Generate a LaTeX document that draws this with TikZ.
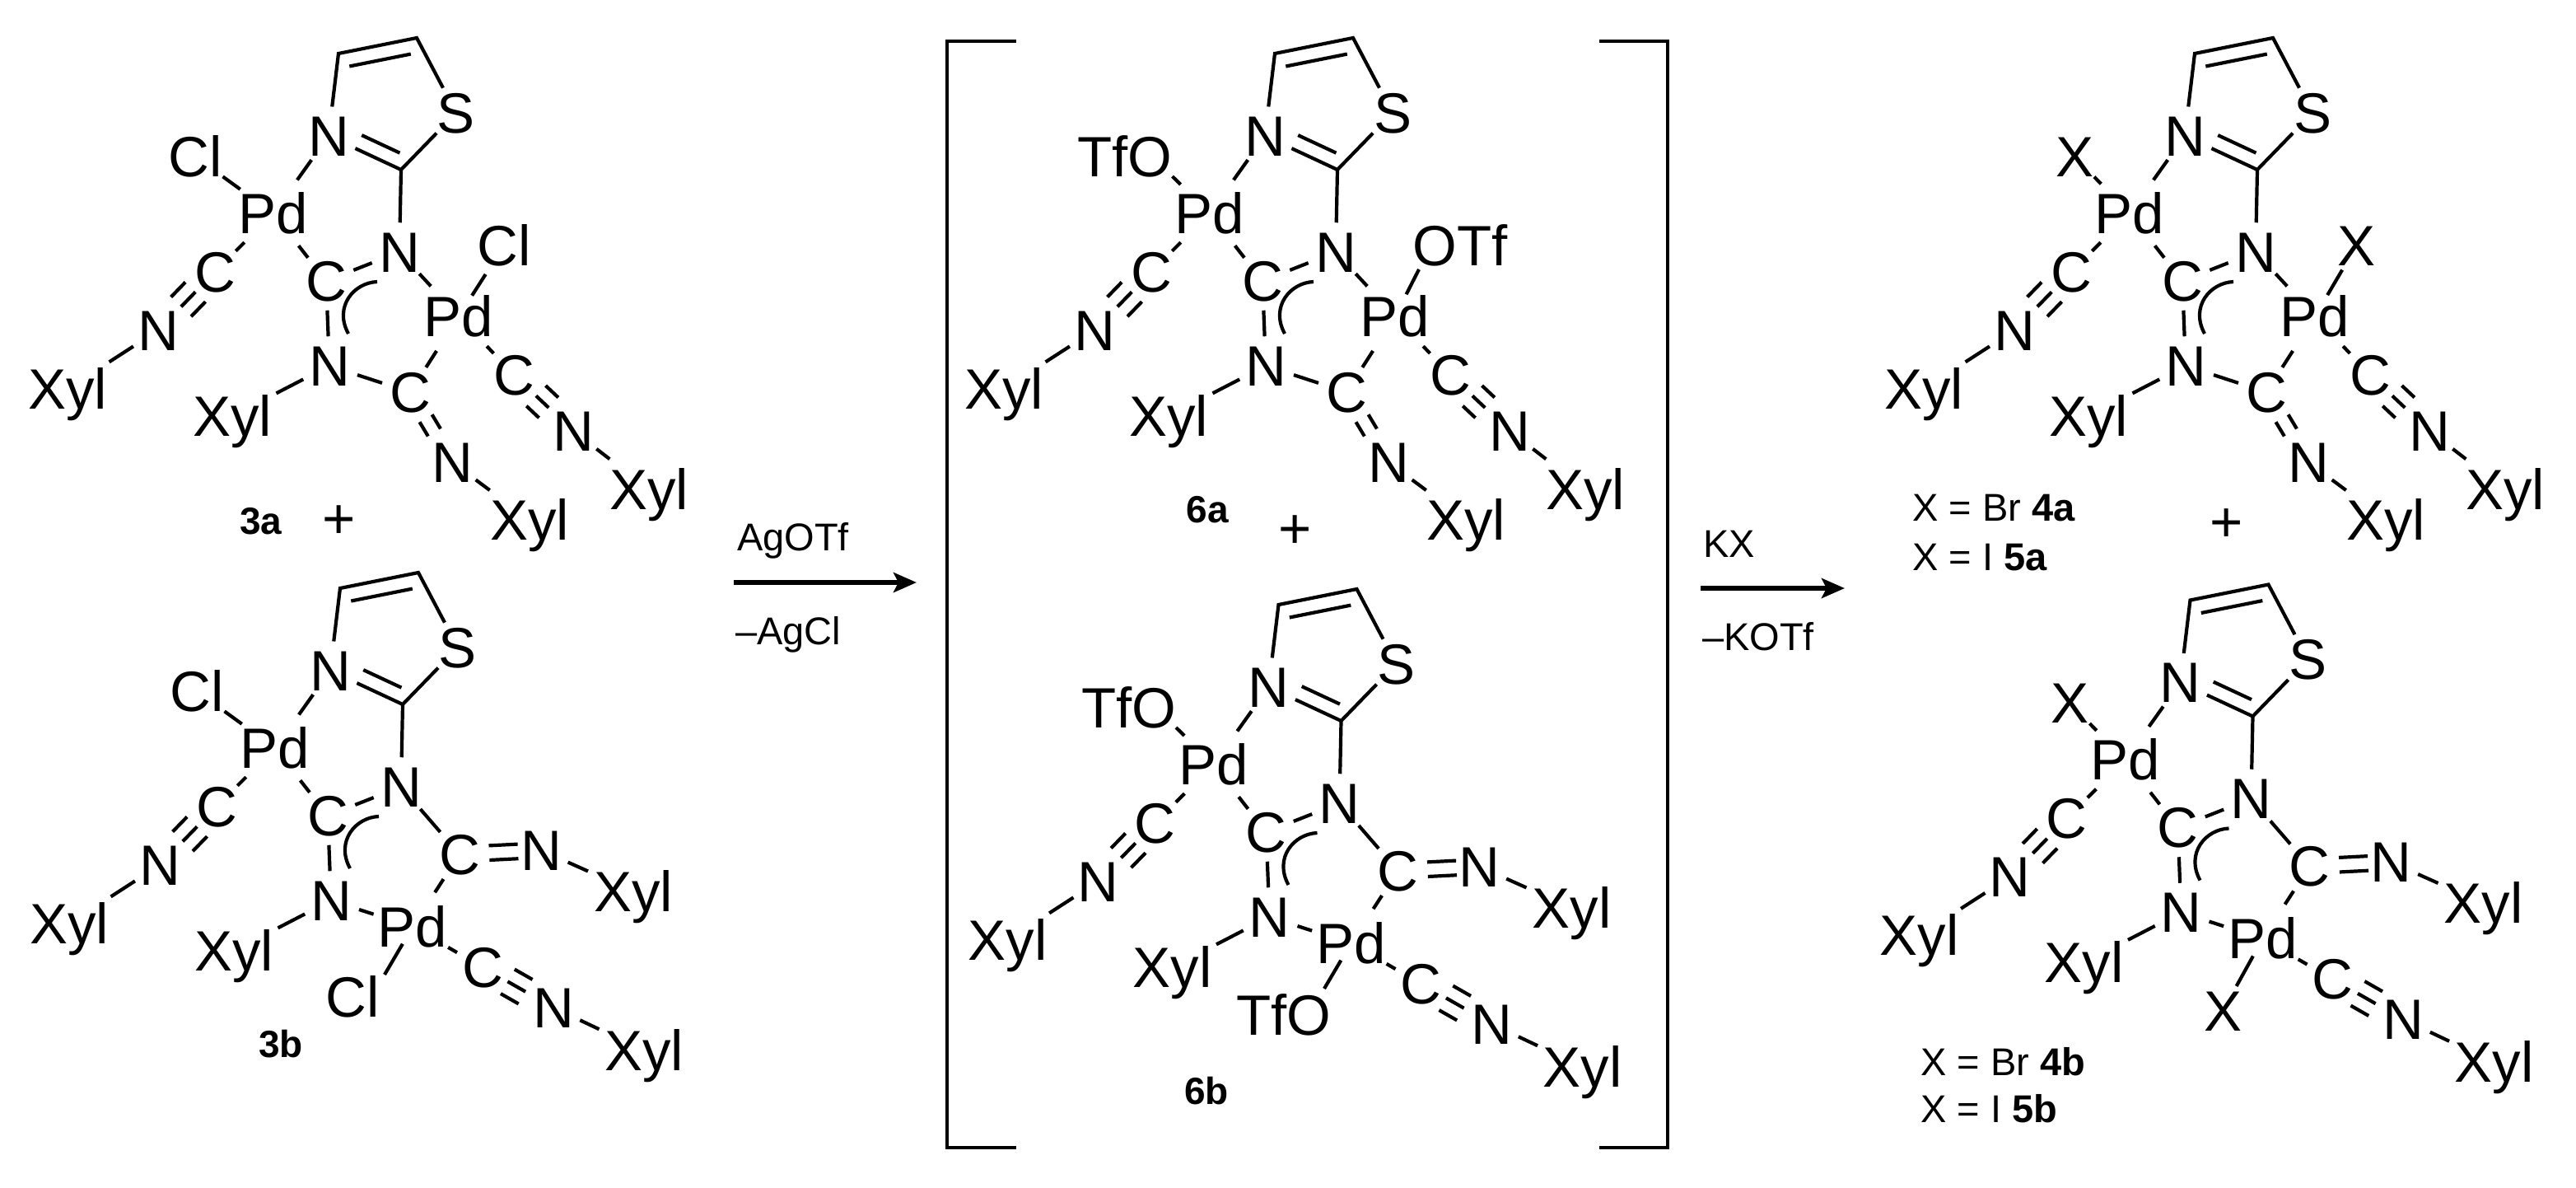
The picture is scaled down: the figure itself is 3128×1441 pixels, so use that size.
\documentclass[tikz,border=0pt]{standalone}
\usepackage{fontspec}
\setmainfont{Liberation Sans}
\usetikzlibrary{calc,arrows.meta}
\tikzset{
  atom/.style={circle,inner sep=0.4pt,outer sep=0pt,text height=24pt,text depth=0pt,font=\fontsize{34.5}{36}\selectfont},
  pdatom/.style={atom,inner sep=0.5pt},
  xylatom/.style={atom,inner sep=2.5pt},
  lig/.style={rectangle,inner sep=0pt,outer sep=0pt,text height=24pt,text depth=0pt,font=\fontsize{34.5}{36}\selectfont},
  cpdlabel/.style={inner sep=0pt,font=\fontsize{23}{24}\selectfont\bfseries},
  note/.style={anchor=base west,inner sep=0pt,font=\fontsize{23.5}{26}\selectfont},
  plusmark/.style={anchor=base,inner sep=0pt,font=\fontsize{34.5}{36}\selectfont},
  nearpd/.style={shorten <=15pt},
  closepd/.style={shorten <=12pt},
  rxnarrow/.style={line width=2.8pt,-{Stealth[length=14pt,width=12pt,inset=3pt]}},
  brack/.style={line width=2.3pt,line join=miter}
}
% parallel stroke of a multiple bond: from a, to b, gap at a, gap at b, side offset
\newcommand{\mbond}[5]{\draw ($(#1)!#3!(#2)!#5!90:(#2)$) -- ($(#2)!#4!(#1)!#5!-90:(#1)$);}
\newcommand{\tbond}[4]{\mbond{#1}{#2}{#3}{#4}{8.5pt}\mbond{#1}{#2}{#3}{#4}{0pt}\mbond{#1}{#2}{#3}{#4}{-8.5pt}}
\newcommand{\dbond}[4]{\mbond{#1}{#2}{#3}{#4}{4.4pt}\mbond{#1}{#2}{#3}{#4}{-4.4pt}}
% inner stroke of a ring double bond
\newcommand{\ibond}[4]{\draw ($(#1)!#3!(#2)!8.9pt!-90:(#2)$) -- ($(#1)!#4!(#2)!8.9pt!-90:(#2)$);}
\newcommand{\corepart}[1]{%
  \coordinate (#1c5) at (411,65);
  \coordinate (#1c4) at (506,46);
  \coordinate (#1c2) at (487,206);
  \coordinate (#1a1) at (458,342);
  \coordinate (#1a2) at (430,343);
  \coordinate (#1a3) at (405,372);
  \coordinate (#1a4) at (423,405);
  \node[atom] (#1S) at (554,137) {S};
  \node[atom] (#1Nt) at (399,165) {N};
  \node[pdatom] (#1Pd1) at (332,259) {Pd};
  \node[atom] (#1Nb) at (485,306) {N};
  \node[atom] (#1Ci) at (261,330) {C};
  \node[atom] (#1Cb) at (396,341) {C};
  \node[atom] (#1Ni) at (192,401) {N};
  \node[atom] (#1Nc) at (400,444) {N};
  \node[xylatom] (#1Xa) at (82,472) {Xyl};
  \node[xylatom] (#1Xb) at (282,505) {Xyl};
  \draw[line join=miter] (#1Nt) -- (#1c5) -- (#1c4) -- (#1S);
  \ibond{#1c5}{#1c4}{5pt}{43pt}
  \draw (#1S) -- (#1c2) -- (#1Nt);
  \ibond{#1c2}{#1Nt}{5pt}{30.5pt}
  \draw (#1c2) -- (#1Nb);
  \draw (#1Nt) -- (#1Pd1);
  \draw (#1Pd1) -- (#1Ci);
  \draw (#1Pd1) -- (#1Cb);
  \tbond{#1Ci}{#1Ni}{17pt}{20pt}
  \draw (#1Ni) -- (#1Xa);
  \draw (#1Cb) -- (#1Nb);
  \draw (#1Cb) -- (#1Nc);
  \draw (#1Nc) -- (#1Xb);
  \draw (#1a1) .. controls (#1a2) and (#1a3) .. (#1a4);
}
\newcommand{\armsA}[1]{%
  \node[pdatom] (#1Pd2) at (557,384) {Pd};
  \node[atom] (#1Cc) at (624,455) {C};
  \node[atom] (#1Cd) at (498,476) {C};
  \node[atom] (#1Nd) at (696,523) {N};
  \node[atom] (#1Ne) at (549,561) {N};
  \node[xylatom] (#1Xc) at (788,594) {Xyl};
  \node[xylatom] (#1Xd) at (643,631) {Xyl};
  \draw (#1Nb) -- (#1Pd2);
  \draw (#1Nc) -- (#1Cd);
  \draw (#1Pd2) -- (#1Cd);
  \draw (#1Pd2) -- (#1Cc);
  \tbond{#1Cc}{#1Nd}{18.5pt}{20.5pt}
  \dbond{#1Cd}{#1Ne}{18.5pt}{21pt}
  \draw (#1Nd) -- (#1Xc);
  \draw (#1Ne) -- (#1Xd);
}
\newcommand{\armsB}[1]{%
  \node[atom] (#1Cx) at (556,388) {C};
  \node[atom] (#1Nx) at (655,383) {N};
  \node[xylatom] (#1Xc) at (767,433) {Xyl};
  \node[pdatom] (#1Pd2) at (499,476) {Pd};
  \node[atom] (#1Cy) at (584,525) {C};
  \node[atom] (#1Ny) at (670,574) {N};
  \node[xylatom] (#1Xd) at (780,626) {Xyl};
  \draw (#1Nb) -- (#1Cx);
  \dbond{#1Cx}{#1Nx}{18pt}{14pt}
  \draw (#1Nx) -- (#1Xc);
  \draw (#1Cx) -- (#1Pd2);
  \draw (#1Nc) -- (#1Pd2);
  \draw (#1Pd2) -- (#1Cy);
  \tbond{#1Cy}{#1Ny}{17.5pt}{19.5pt}
  \draw (#1Ny) -- (#1Xd);
}
\begin{document}
\begin{tikzpicture}[x=0.5pt,y=-0.5pt,line width=2.1pt,line cap=butt]
\useasboundingbox (0,0) rectangle (3128,1441);

% 3a
\begin{scope}
  \corepart{ta}\armsA{ta}
  \node[atom] (taL1) at (237,190) {Cl};
  \node[atom] (taL2) at (612,298) {Cl};
  \draw (taPd1) -- (taL1);
  \draw[nearpd] (taPd2.center) -- (taL2);
\end{scope}
\node[cpdlabel] (lta) at (317,633) {3a};
\node[plusmark] (pta) at (412,653) {+};

% 3b
\begin{scope}[shift={(2,649)}]
  \corepart{tb}\armsB{tb}
  \node[atom] (tbL1) at (237,190) {Cl};
  \node[atom] (tbL2) at (426,561) {Cl};
  \coordinate (tbE2) at (465,534);
  \draw (tbPd1) -- (tbL1);
  \draw[closepd] (tbPd2.center) -- (tbE2);
\end{scope}
\node[cpdlabel] (ltb) at (341,1267) {3b};

% first arrow
\coordinate (ar1a) at (891,707);
\coordinate (ar1b) at (1113,707);
\draw[rxnarrow] (ar1a) -- (ar1b);
\node[note] (t1) at (893,668) {AgOTf};
\node[note] (t2) at (891,782) {–AgCl};

% brackets
\coordinate (bl1) at (1234,50);
\coordinate (bl2) at (1150,50);
\coordinate (bl3) at (1150,1393);
\coordinate (bl4) at (1234,1393);
\coordinate (br1) at (1942,50);
\coordinate (br2) at (2025,50);
\coordinate (br3) at (2025,1393);
\coordinate (br4) at (1942,1393);
\draw[brack] (bl1) -- (bl2) -- (bl3) -- (bl4);
\draw[brack] (br1) -- (br2) -- (br3) -- (br4);

% 6a
\begin{scope}[shift={(1137,0)}]
  \corepart{sa}\armsA{sa}
  \node[lig] (saL1) at (229,190) {TfO};
  \node[lig] (saL2) at (636,298) {OTf};
  \coordinate (saE2) at (586,327);
  \draw (saPd1) -- (saL1.south east);
  \draw[nearpd] (saPd2.center) -- (saE2);
\end{scope}
\node[cpdlabel] (lsa) at (1466,619) {6a};
\node[plusmark] (psa) at (1573,665) {+};

% 6b
\begin{scope}[shift={(1141.5,669)}]
  \corepart{sb}\armsB{sb}
  \node[lig] (sbL1) at (229,190) {TfO};
  \node[lig] (sbL2) at (417.5,563) {TfO};
  \coordinate (sbE2) at (466.5,531);
  \draw (sbPd1) -- (sbL1.south east);
  \draw[closepd] (sbPd2.center) -- (sbE2);
\end{scope}
\node[cpdlabel] (lsb) at (1465,1324) {6b};

% second arrow
\coordinate (ar2a) at (2065,714);
\coordinate (ar2b) at (2240,714);
\draw[rxnarrow] (ar2a) -- (ar2b);
\node[note] (t3) at (2066,676) {KX};
\node[note] (t4) at (2065,789) {–KOTf};

% 4a
\begin{scope}[shift={(2254,0)}]
  \corepart{fa}\armsA{fa}
  \node[atom] (faL1) at (265,190) {X};
  \node[atom] (faL2) at (607.5,298) {X};
  \draw (faPd1) -- (faL1);
  \draw[nearpd] (faPd2.center) -- (faL2);
\end{scope}
\node[note] (n1) at (2320,632) {X = Br \textbf{4a}};
\node[note] (n2) at (2320,692) {X = I \textbf{5a}};
\node[plusmark] (pfa) at (2704,657) {+};

% 4b
\begin{scope}[shift={(2248.5,663.5)}]
  \corepart{fb}\armsB{fb}
  \node[atom] (fbL1) at (265,190) {X};
  \node[atom] (fbL2) at (450.5,563.5) {X};
  \draw (fbPd1) -- (fbL1);
  \draw[closepd] (fbPd2.center) -- (fbL2);
\end{scope}
\node[note] (n3) at (2330,1305) {X = Br \textbf{4b}};
\node[note] (n4) at (2330,1362) {X = I \textbf{5b}};
\end{tikzpicture}
\end{document}
